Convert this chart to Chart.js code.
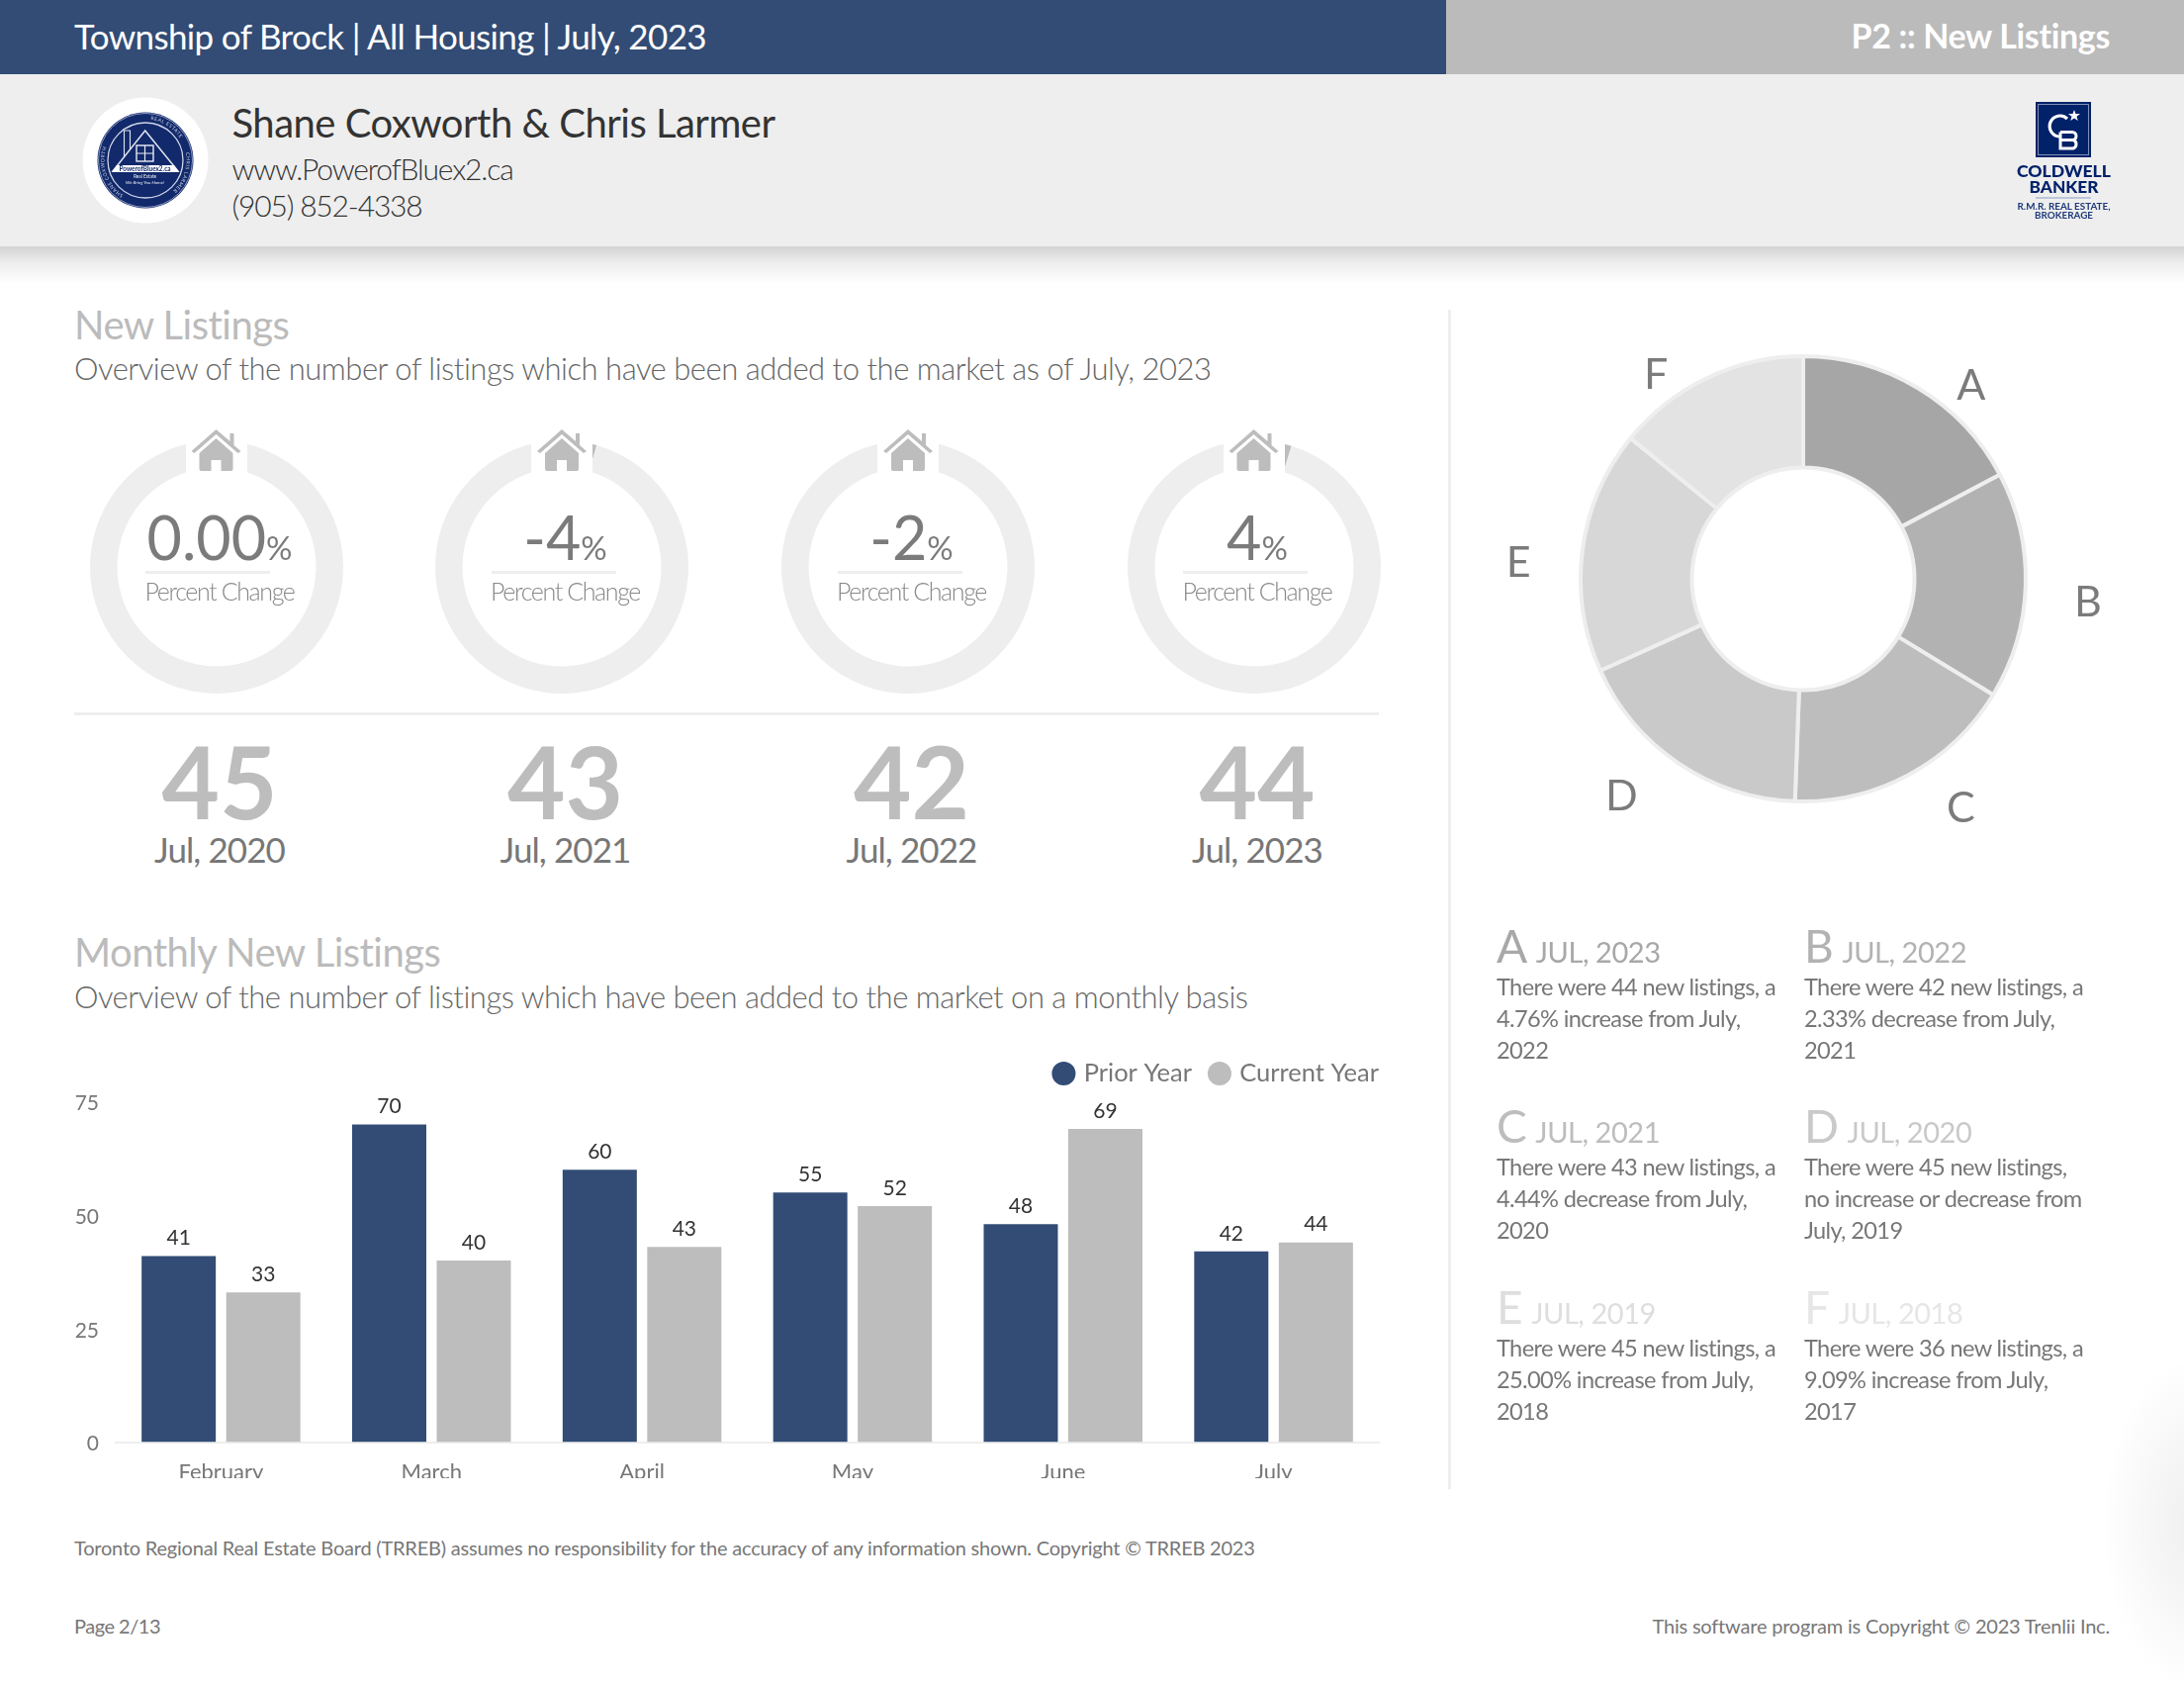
<!DOCTYPE html>
<html><head><meta charset="utf-8">
<script src="https://cdn.jsdelivr.net/npm/chart.js@4"></script>
<style>
html,body{margin:0;padding:0;background:#fff;width:2208px;height:1702px;overflow:hidden;font-family:Lato,sans-serif}
#page{position:relative;width:2208px;height:1702px;overflow:hidden}
.b{position:absolute}
.t{position:absolute;white-space:pre;line-height:0}
canvas{position:absolute;display:block}
svg{position:absolute;left:0;top:0}
</style></head><body><div id="page"></div>
<script>
const months=['February','March','April','May','June','July'];
const priorYear=[41,70,60,55,48,42];
const currentYear=[33,40,43,52,69,44];
const yTicks=[0,25,50,75];
const gaugeShare=[0,4.44,2.33,4.76];
const gaugeText=['0.00','-4','-2','4'];
const yearTotals=[45,43,42,44];
const yearLabels=['Jul, 2020','Jul, 2021','Jul, 2022','Jul, 2023'];
const pieLetters=['A','B','C','D','E','F'];
const pieValues=[44,42,43,45,45,36];
const pieColors=['#a6a6a6','#b2b2b2','#bdbdbd','#c9c9c9','#d7d7d7','#e3e3e3'];
const letterColors=['#a8a8a8','#b2b2b2','#bdbdbd','#c9c9c9','#dedede','#e6e6e6'];
const pieYears=['JUL, 2023','JUL, 2022','JUL, 2021','JUL, 2020','JUL, 2019','JUL, 2018'];
const pieText=[
 ['There were 44 new listings, a','4.76% increase from July,','2022'],
 ['There were 42 new listings, a','2.33% decrease from July,','2021'],
 ['There were 43 new listings, a','4.44% decrease from July,','2020'],
 ['There were 45 new listings,','no increase or decrease from','July, 2019'],
 ['There were 45 new listings, a','25.00% increase from July,','2018'],
 ['There were 36 new listings, a','9.09% increase from July,','2017']];
const labelNudge=[[33,32.5],[23,15.5],[34,-1.5],[-36,0],[-25,18],[-35,33]];

const page=document.getElementById('page');
function box(x,y,w,h,bg){const d=document.createElement('div');d.className='b';d.style.cssText=`left:${x}px;top:${y}px;width:${w}px;height:${h}px;background:${bg}`;page.appendChild(d);return d;}
// place text by baseline; optional target width w; align l/c/r
function txt(s,x,base,size,color,o={}){
 const d=document.createElement('div');d.className='t';d.style.fontSize=size+'px';d.style.color=color;d.style.fontWeight=o.weight||400;
 d.style.top=(base+1.2-0.387*size)+'px';
 if(o.html)d.innerHTML=s;else d.textContent=s;
 if(o.ls)d.style.letterSpacing=o.ls+'px';
 d.style.left='0px';page.appendChild(d);
 if(o.w){const m=d.getBoundingClientRect().width;d.style.letterSpacing=((o.w-m)/s.length)+'px';}
 const W=d.getBoundingClientRect().width;
 d.style.left=(o.align==='c'?x-W/2:o.align==='r'?x-W:x)+'px';
 return d;
}
function build(){
// header
box(0,0,1462,75,'#324c75');box(1462,0,746,75,'#bbbbbb');
box(0,75,2208,174,'#eeeeee');
box(0,249,2208,38,'linear-gradient(#d3d3d3,#eeeeee 45%,#ffffff)');
box(2100,1380,108,322,'radial-gradient(ellipse 100px 170px at 125px 160px,#eeeeee,#f7f7f7 55%,#ffffff 100%)');
txt('Township of Brock | All Housing | July, 2023',75,48,35,'#fff',{w:639});
txt('P2 :: New Listings',2133,48,34,'#fff',{w:262,align:'r',weight:700});
txt('Shane Coxworth & Chris Larmer',234.5,138,40,'#333',{w:549});
txt('www.PowerofBluex2.ca',234.5,180,30,'#333',{w:284,weight:300});
txt('(905) 852-4338',234.5,217,30,'#333',{w:192,weight:300});
// headings
txt('New Listings',75,342,40,'#bbb',{w:218});
txt('Overview of the number of listings which have been added to the market as of July, 2023',75,382.5,31,'#666',{w:1150,weight:300});
txt('Monthly New Listings',75,976.5,40,'#bbb',{w:371});
txt('Overview of the number of listings which have been added to the market on a monthly basis',75,1018,31,'#666',{w:1187,weight:300});
// rules
box(75,720,1319,3,'#eeeeee');
box(1464,313,3,1192,'#eeeeee');
// footer
txt('Toronto Regional Real Estate Board (TRREB) assumes no responsibility for the accuracy of any information shown. Copyright © TRREB 2023',75,1571,20,'#777',{w:1194});
txt('Page 2/13',75,1649.5,20,'#777',{w:87});
txt('This software program is Copyright © 2023 Trenlii Inc.',2133,1649.5,20,'#777',{w:462,align:'r'});

// gauges
const ringX=[218.5,568,918,1267.5];
ringX.forEach((cx,i)=>{
 const c=document.createElement('canvas');c.width=256;c.height=256;c.style.left=(cx-128)+'px';c.style.top='444.5px';page.appendChild(c);
 new Chart(c,{type:'doughnut',data:{labels:['Change','Rest'],datasets:[{data:[gaugeShare[i],100-gaugeShare[i]],backgroundColor:['#bdbdbd','#eeeeee'],borderWidth:0}]},
  options:{responsive:false,animation:false,devicePixelRatio:1,cutout:'78.5%',plugins:{legend:{display:false},tooltip:{enabled:false}}}});
 box(cx-31,420,62,58,'#fff');
 const col=cx+3.5;
 txt(`${gaugeText[i]}<span style="font-size:33px">%</span>`,col,565,61,'#7b7b7b',{html:1,align:'c',weight:400});
 box(col-75,577,126,3,'#eeeeee');
 txt('Percent Change',col,605,25,'#888',{w:151,weight:300,align:'c'});
 txt(String(yearTotals[i]),col,827,101,'#bdbdbd',{weight:700,align:'c'});
 txt(yearLabels[i],col,870,35,'#777',{w:132,align:'c'});
});
// house icons + logos
const ns='http://www.w3.org/2000/svg';
let svg=`<svg xmlns="${ns}" width="2208" height="1702" viewBox="0 0 2208 1702">`;
ringX.forEach(cx=>{
 svg+=`<g transform="translate(${cx},0)" fill="#bdbdbd">
 <polygon points="0,434 14,446 14,438 18,438 18,450 25,456 22,458 0,439 -22,458 -25,456"/>
 <path d="M0,443 L17,458 V474 Q17,476 15,476 H5 V465 H-5 V476 H-15 Q-17,476 -17,474 V458 Z"/></g>`;
});
svg+=`<circle cx="147" cy="162" r="63.5" fill="#fff"/>
<circle cx="147" cy="162" r="48.5" fill="#12296b"/>
<circle cx="147" cy="162" r="38" fill="none" stroke="#cfd6e8" stroke-width="1.3"/>
<circle cx="147" cy="162" r="47.5" fill="none" stroke="#8f9cc2" stroke-width="1"/>
<path d="M146.7,132 L114,173 H180 Z" fill="none" stroke="#dfe4f0" stroke-width="1.5"/>
<path d="M125.5,158 V132 H131.5 V151" fill="none" stroke="#dfe4f0" stroke-width="1.1"/>
<rect x="138" y="147" width="17" height="16" fill="none" stroke="#e8ecf5" stroke-width="1.4"/>
<path d="M146.5,147 V163 M138,155 H155" stroke="#e8ecf5" stroke-width="1.2"/>
<path d="M113,174 H181 L176,167 H118 Z" fill="#fff"/>
<text x="146.5" y="172.7" font-family="Lato" font-size="6.5" fill="#12296b" text-anchor="middle" font-weight="700" textLength="52" lengthAdjust="spacingAndGlyphs">PowerofBluex2.ca</text>
<text x="146.5" y="179.5" font-family="Lato" font-size="4.8" fill="#e8ecf5" text-anchor="middle">Real Estate</text>
<text x="146.5" y="186" font-family="Lato" font-size="4.6" fill="#e8ecf5" text-anchor="middle" font-style="italic">We Bring You Home!</text>
<defs><path id="tp" d="M147,203.5 a41.5,41.5 0 1,1 0,-83 a41.5,41.5 0 1,1 0,83"/></defs>
<text font-family="Lato" font-size="5" fill="#c9d1e6" letter-spacing="0.6"><textPath href="#tp" startOffset="9%">SHANE COXWORTH</textPath></text>
<text font-family="Lato" font-size="5" fill="#c9d1e6" letter-spacing="0.6"><textPath href="#tp" startOffset="52%">REAL ESTATE</textPath></text>
<text font-family="Lato" font-size="5" fill="#c9d1e6" letter-spacing="0.6"><textPath href="#tp" startOffset="72%">CHRIS LARMER</textPath></text>
<rect x="2058" y="103" width="56" height="56" fill="#012169"/>
<rect x="2060.5" y="105.5" width="51" height="51" fill="none" stroke="#7f90b4" stroke-width="1"/>
<path d="M2090,120 A10.5,10.5 0 1,0 2082,138" fill="none" stroke="#fff" stroke-width="3.2"/>
<path d="M2083,133.5 H2095 A4,4 0 0,1 2095,141.5 H2083 M2083,141.5 H2096 A4.5,4.5 0 0,1 2096,150 H2083 V133.5" fill="none" stroke="#fff" stroke-width="3"/>
<path d="M2097,111 L2098.5,115 L2103,115 L2099.5,117.8 L2100.8,122 L2097,119.5 L2093.2,122 L2094.5,117.8 L2091,115 L2095.5,115 Z" fill="#fff"/>
<text x="2086.5" y="179" font-family="Lato" font-weight="900" font-size="17" fill="#012169" text-anchor="middle" textLength="95" lengthAdjust="spacingAndGlyphs">COLDWELL</text>
<text x="2086.5" y="195" font-family="Lato" font-weight="900" font-size="17" fill="#012169" text-anchor="middle" textLength="70" lengthAdjust="spacingAndGlyphs">BANKER</text>
<rect x="2058" y="199.5" width="56" height="1" fill="#8ea0c4"/>
<text x="2086.5" y="212" font-family="Lato" font-weight="700" font-size="9" fill="#1f3a7a" text-anchor="middle" textLength="94" lengthAdjust="spacingAndGlyphs">R.M.R. REAL ESTATE,</text>
<text x="2086.5" y="220.5" font-family="Lato" font-weight="700" font-size="9" fill="#1f3a7a" text-anchor="middle" textLength="59" lengthAdjust="spacingAndGlyphs">BROKERAGE</text>
</svg>`;
const holder=document.createElement('div');holder.innerHTML=svg;page.appendChild(holder.firstChild);

// big doughnut
const pc=document.createElement('canvas');pc.width=660;pc.height=550;pc.style.left='1493px';pc.style.top='310px';page.appendChild(pc);
const pieLabelPlugin={id:'pieLabels',afterDatasetsDraw(ch){
 const {ctx}=ch;ctx.save();ctx.font='400 43px Lato';ctx.fillStyle='#7b7b7b';ctx.textAlign='center';ctx.textBaseline='middle';
 ch.getDatasetMeta(0).data.forEach((a,i)=>{const m=(a.startAngle+a.endAngle)/2;
  ctx.fillText(pieLetters[i],a.x+Math.cos(m)*265+labelNudge[i][0],a.y+Math.sin(m)*265+labelNudge[i][1]);});
 ctx.restore();}};
new Chart(pc,{type:'doughnut',data:{labels:pieLetters,datasets:[{data:pieValues,backgroundColor:pieColors,borderColor:'#eeeeee',borderWidth:4}]},
 options:{responsive:false,animation:false,devicePixelRatio:1,cutout:'50%',layout:{padding:{top:48,bottom:48}},plugins:{legend:{display:false},tooltip:{enabled:false}}},plugins:[pieLabelPlugin]});

// legend text blocks
const colX=[1513,1824];
const rowB=[973,1155,1338];
pieLetters.forEach((l,i)=>{
 const x=colX[i%2],b=rowB[Math.floor(i/2)],c=letterColors[i];
 txt(`<span style="font-size:46px">${l}</span><span style="font-size:29px;letter-spacing:-0.45px;margin-left:2.5px"> ${pieYears[i]}</span>`,x,b,46,c,{html:1});
 pieText[i].forEach((ln,j)=>txt(ln,x,b+32+j*32,23.6,'#777',{ls:-0.63}));
});

// bar chart
const bc=document.createElement('canvas');bc.width=1340;bc.height=438;bc.style.left='70px';bc.style.top='1056px';page.appendChild(bc);
const valuePlugin={id:'values',
 beforeInit(ch){const f=ch.legend.fit;ch.legend.fit=function(){f.call(this);this.height=57.5;};},
 afterLayout(ch){ch.legend.right=ch.width+4.5;ch.legend.top-=4.2;},
 afterDatasetsDraw(ch){const {ctx}=ch;ctx.save();ctx.font='400 21px Lato';ctx.fillStyle='#333';ctx.textAlign='center';ctx.textBaseline='middle';
  ch.data.datasets.forEach((ds,k)=>ch.getDatasetMeta(k).data.forEach((b,i)=>ctx.fillText(ds.data[i],b.x,b.y-18)));ctx.restore();}};
new Chart(bc,{type:'bar',data:{labels:months,datasets:[
 {label:'Prior Year',data:priorYear,backgroundColor:'#324c75',borderWidth:0},
 {label:'Current Year',data:currentYear,backgroundColor:'#bdbdbd',borderWidth:0}]},
 options:{responsive:false,animation:false,devicePixelRatio:1,maintainAspectRatio:false,
  layout:{padding:{right:16}},
  datasets:{bar:{categoryPercentage:0.8036,barPercentage:0.877}},
  plugins:{tooltip:{enabled:false},legend:{position:'top',align:'end',labels:{usePointStyle:true,pointStyle:'circle',boxWidth:15,boxHeight:17,padding:20.5,color:'#777',font:{family:'Lato',size:25.5}}}},
  scales:{
   x:{grid:{display:false,drawTicks:false},border:{display:true,color:'#eeeeee',width:2},
      ticks:{color:'#777',font:{family:'Lato',size:22},padding:17,maxRotation:0,autoSkip:false},
      afterFit(s){s.height=36.5;}},
   y:{min:0,max:75,grid:{display:false,drawTicks:false},border:{display:false},
      afterBuildTicks(s){s.ticks=yTicks.map(v=>({value:v}));},
      ticks:{color:'#777',font:{family:'Lato',size:21},padding:17},
      afterFit(s){s.width=47;
       if(!s._nudged){s._nudged=true;const o=s._computeLabelItems;s._computeLabelItems=function(a){const r=o.call(this,a);r.forEach(it=>{it.textOffset=(it.textOffset||0)+2;});return r;};}}}}},
 plugins:[valuePlugin]});
}
(document.fonts&&document.fonts.load?Promise.all(['400 20px Lato','300 20px Lato','700 20px Lato','900 20px Lato'].map(f=>document.fonts.load(f))):Promise.resolve()).then(build,build);
</script></body></html>
